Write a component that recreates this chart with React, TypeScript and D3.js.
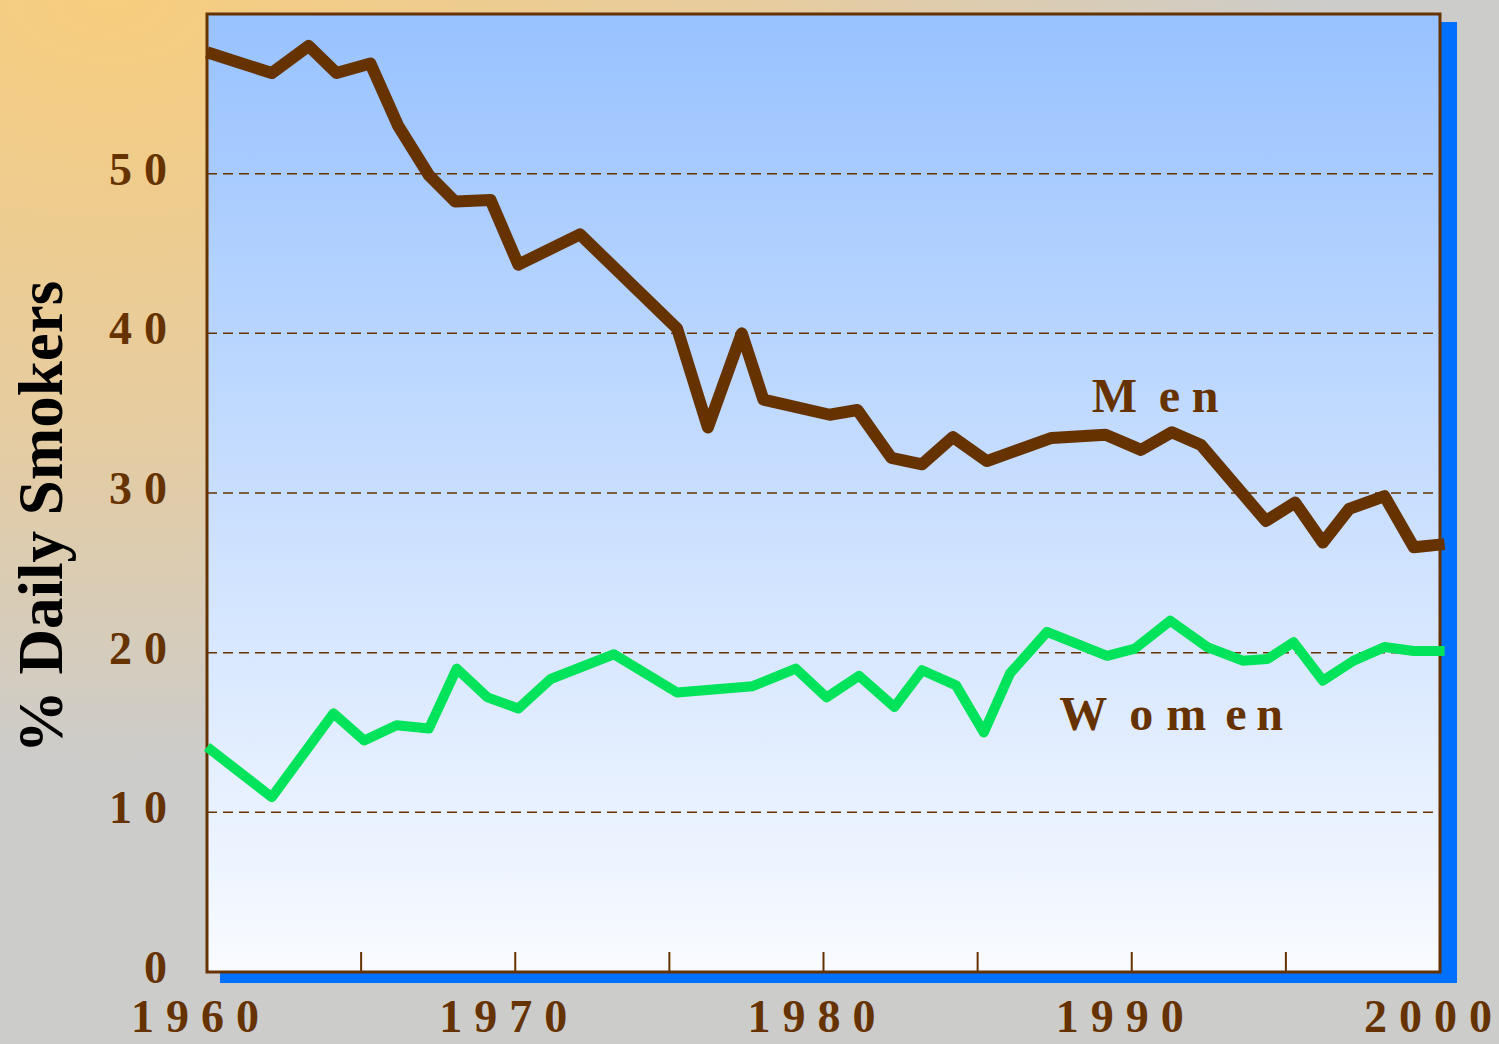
import React, { useRef, useEffect } from "react";
import { select, scaleLinear, line } from "d3";

// men, daily smokers in % (survey dates as fractional years)
const menYears = [
  1960.0, 1962.1, 1963.3, 1964.2, 1965.3, 1966.2, 1967.2, 1968.05, 1969.2, 1970.1,
  1972.1, 1975.25, 1976.25, 1977.35, 1978.05, 1980.2, 1981.1, 1982.2, 1983.2, 1984.2,
  1985.3, 1987.4, 1989.15, 1990.3, 1991.3, 1992.25, 1994.35, 1995.3, 1996.2, 1997.05,
  1998.2, 1999.15, 2000.15,
];
const menValues = [
  57.6, 56.3, 58.0, 56.3, 56.9, 53.0, 49.9, 48.25, 48.35, 44.3,
  46.2, 40.3, 34.1, 40.0, 35.85, 34.9, 35.2, 32.2, 31.8, 33.5,
  32.0, 33.45, 33.65, 32.7, 33.8, 33.0, 28.25, 29.4, 26.9, 29.0,
  29.8, 26.6, 26.8,
];

const womenYears = [
  1960.0, 1962.1, 1964.1, 1965.1, 1966.15, 1967.2, 1968.1, 1969.1, 1970.1, 1971.15,
  1973.2, 1975.25, 1977.7, 1979.1, 1980.1, 1981.15, 1982.3, 1983.2, 1984.3, 1985.2,
  1986.05, 1987.25, 1989.2, 1990.1, 1991.25, 1992.45, 1993.6, 1994.4, 1995.25, 1996.2,
  1997.2, 1998.2, 1999.15, 2000.15,
];
const womenValues = [
  14.1, 10.95, 16.2, 14.5, 15.45, 15.25, 19.0, 17.2, 16.5, 18.35,
  19.9, 17.5, 17.9, 19.0, 17.2, 18.55, 16.6, 18.9, 17.95, 15.0,
  18.7, 21.3, 19.8, 20.25, 22.0, 20.35, 19.5, 19.6, 20.65, 18.25,
  19.5, 20.35, 20.1, 20.1,
];

const yTickValues = [0, 10, 20, 30, 40, 50];
const gridValues = [10, 20, 30, 40, 50];
const xLabelYears = [1960, 1970, 1980, 1990, 2000];
const xTickYears = [1965, 1970, 1975, 1980, 1985, 1990, 1995];

const W = 1499;
const H = 1044;
const plot = { left: 207, right: 1440, top: 14, bottom: 972 };
const brown = "#663300";
const serif = "'Liberation Serif', 'Times New Roman', Times, serif";

// spaced-out digits, no trailing space after the last one
function spaced(sel, txt: string) {
  const s = String(txt);
  sel.append("tspan").attr("letter-spacing", 12).text(s.slice(0, -1));
  sel.append("tspan").attr("letter-spacing", 0).text(s.slice(-1));
}

function SmokersChart() {
  const svgRef = useRef(null);

  useEffect(() => {
    document.body.style.margin = "0";
    const svg = select(svgRef.current);
    svg.selectAll("*").remove();

    const x = scaleLinear().domain([1960, 2000]).range([plot.left, plot.right]);
    const y = scaleLinear().domain([0, 60]).range([plot.bottom, plot.top]);

    const defs = svg.append("defs");
    const bg = defs
      .append("radialGradient")
      .attr("id", "bg")
      .attr("gradientUnits", "userSpaceOnUse")
      .attr("cx", 0)
      .attr("cy", 0)
      .attr("r", 1)
      .attr("gradientTransform", "translate(110,0) scale(1230,770)");
    bg.append("stop").attr("offset", 0).attr("stop-color", "#f7cd7e");
    bg.append("stop").attr("offset", 0.55).attr("stop-color", "#e6cca0");
    bg.append("stop").attr("offset", 1).attr("stop-color", "#cccccb");

    const pg = defs
      .append("linearGradient")
      .attr("id", "plotbg")
      .attr("x1", 0)
      .attr("y1", 0)
      .attr("x2", 0)
      .attr("y2", 1);
    pg.append("stop").attr("offset", 0).attr("stop-color", "#98c2ff");
    pg.append("stop").attr("offset", 1).attr("stop-color", "#f9fbff");

    svg.append("rect").attr("width", W).attr("height", H).attr("fill", "url(#bg)");

    // blue drop shadow behind the plot
    svg
      .append("rect")
      .attr("x", plot.left + 13)
      .attr("y", plot.top + 8)
      .attr("width", plot.right - plot.left + 4)
      .attr("height", plot.bottom - plot.top + 3)
      .attr("fill", "#0070ff");

    svg
      .append("rect")
      .attr("x", plot.left)
      .attr("y", plot.top)
      .attr("width", plot.right - plot.left)
      .attr("height", plot.bottom - plot.top)
      .attr("fill", "url(#plotbg)");

    svg
      .selectAll(".grid")
      .data(gridValues)
      .join("line")
      .attr("class", "grid")
      .attr("x1", plot.left)
      .attr("x2", plot.right)
      .attr("y1", (d) => y(d))
      .attr("y2", (d) => y(d))
      .attr("stroke", brown)
      .attr("stroke-width", 1.5)
      .attr("stroke-dasharray", "10 6");

    svg
      .selectAll(".xtick")
      .data(xTickYears)
      .join("line")
      .attr("class", "xtick")
      .attr("x1", (d) => x(d))
      .attr("x2", (d) => x(d))
      .attr("y1", plot.bottom - 20)
      .attr("y2", plot.bottom)
      .attr("stroke", brown)
      .attr("stroke-width", 2);

    svg
      .append("rect")
      .attr("x", plot.left)
      .attr("y", plot.top)
      .attr("width", plot.right - plot.left)
      .attr("height", plot.bottom - plot.top)
      .attr("fill", "none")
      .attr("stroke", brown)
      .attr("stroke-width", 3);

    const path = line<number>()
      .x((d) => x(d[0]))
      .y((d) => y(d[1]));

    svg
      .append("path")
      .datum(womenYears.map((yr, i) => [yr, womenValues[i]]))
      .attr("d", path)
      .attr("fill", "none")
      .attr("stroke", "#00e35a")
      .attr("stroke-width", 10)
      .attr("stroke-linejoin", "round");

    svg
      .append("path")
      .datum(menYears.map((yr, i) => [yr, menValues[i]]))
      .attr("d", path)
      .attr("fill", "none")
      .attr("stroke", brown)
      .attr("stroke-width", 12)
      .attr("stroke-linejoin", "round");

    svg
      .selectAll(".ylab")
      .data(yTickValues)
      .join("text")
      .attr("class", "ylab")
      .attr("x", 167)
      .attr("y", (d) => y(d) + 11)
      .attr("text-anchor", "end")
      .attr("font-family", serif)
      .attr("font-weight", "bold")
      .attr("font-size", 46)
      .attr("fill", brown)
      .each(function (d) {
        spaced(select(this), String(d));
      });

    svg
      .selectAll(".xlab")
      .data(xLabelYears)
      .join("text")
      .attr("class", "xlab")
      .attr("x", (d) => x(d) - 12)
      .attr("y", 1032)
      .attr("text-anchor", "middle")
      .attr("font-family", serif)
      .attr("font-weight", "bold")
      .attr("font-size", 46)
      .attr("fill", brown)
      .each(function (d) {
        spaced(select(this), String(d));
      });

    svg
      .append("text")
      .attr("transform", "translate(62,517) rotate(-90)")
      .attr("text-anchor", "middle")
      .attr("font-family", serif)
      .attr("font-weight", "bold")
      .attr("font-size", 63)
      .attr("fill", "#000")
      .text("% Daily Smokers");

    // series labels, glyphs spread out like the original
    const seriesLabels = [
      { text: "Men", year: 1988.7, value: 35.05, gaps: [0, 67, 100] },
      { text: "Women", year: 1987.65, value: 15.15, gaps: [0, 70, 107, 166, 197] },
    ];
    seriesLabels.forEach((lab) => {
      const t = svg
        .append("text")
        .attr("y", y(lab.value))
        .attr("font-family", serif)
        .attr("font-weight", "bold")
        .attr("font-size", 48)
        .attr("fill", brown);
      lab.text.split("").forEach((ch, i) => {
        t.append("tspan").attr("x", x(lab.year) + lab.gaps[i]).text(ch);
      });
    });
  }, []);

  return <svg ref={svgRef} width={W} height={H} style={{ display: "block" }}></svg>;
}

export default function App() {
  return <SmokersChart />;
}
